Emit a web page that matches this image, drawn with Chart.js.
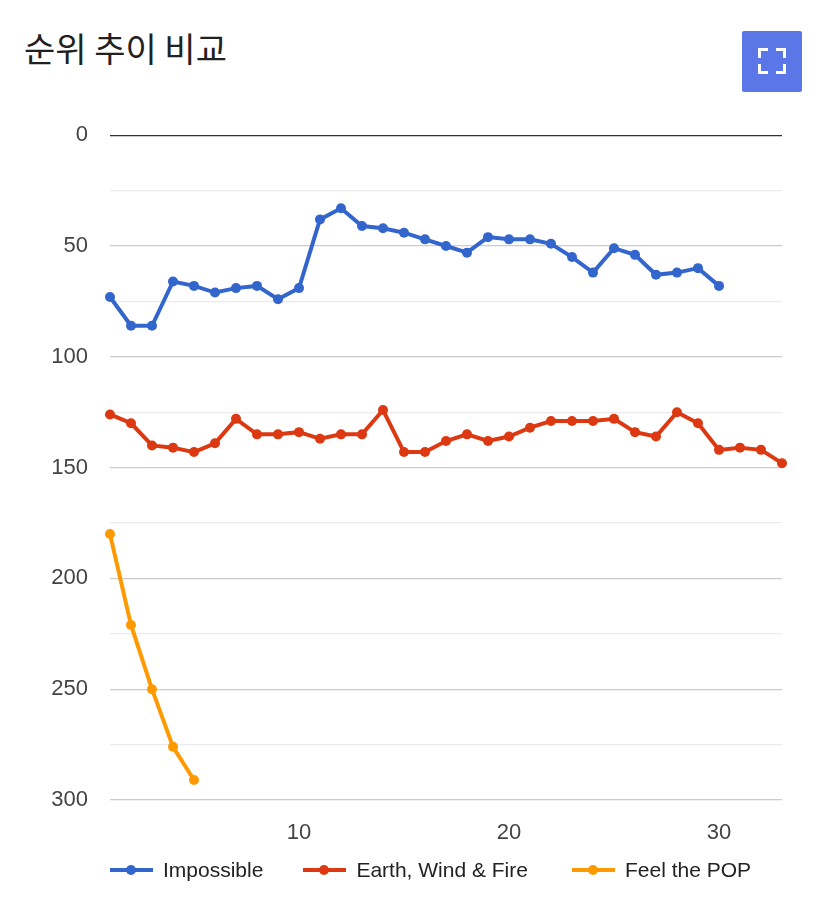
<!DOCTYPE html>
<html>
<head>
<meta charset="utf-8">
<script src="https://cdn.jsdelivr.net/npm/chart.js@4/dist/chart.umd.min.js"></script>
<style>
  html, body { margin: 0; padding: 0; background: #fff; }
  body { width: 828px; height: 922px; position: relative; overflow: hidden; font-family: "Liberation Sans", Arial, sans-serif; }
  #title { position: absolute; left: 24px; top: 26px; font-family: "Noto Sans CJK KR", "Noto Sans", sans-serif; font-size: 34px; color: #212121; line-height: 44px; }
  #fs { position: absolute; left: 742px; top: 31px; width: 60px; height: 61px; background: #5b77e7; border-radius: 2px; }
  #fs span { position: absolute; width: 7px; height: 7px; border-color: #fff; border-style: solid; border-width: 0; }
  #wrap { position: absolute; left: 0; top: 100px; width: 828px; height: 760px; }
  #legend { position: absolute; left: 110px; top: 856px; height: 28px; display: flex; align-items: center; font-family: "Liberation Sans", Arial, sans-serif; font-size: 21px; color: #222; }
  .item { display: flex; align-items: center; }
  .sw { position: relative; width: 43px; height: 4px; margin-right: 10px; }
  .sw i { position: absolute; left: 16px; top: -3px; width: 10px; height: 10px; border-radius: 50%; }
</style>
</head>
<body>
<div id="title">순위 추이 비교</div>
<div id="fs">
  <span style="left:16px;top:17px;border-left-width:3px;border-top-width:3px;"></span>
  <span style="right:16px;top:17px;border-right-width:3px;border-top-width:3px;"></span>
  <span style="left:16px;bottom:18px;border-left-width:3px;border-bottom-width:3px;"></span>
  <span style="right:16px;bottom:18px;border-right-width:3px;border-bottom-width:3px;"></span>
</div>
<div id="wrap"><canvas id="c"></canvas></div>
<div id="legend"></div>
<script>
const seriesNames = ["Impossible", "Earth, Wind & Fire", "Feel the POP"];
const impossible = [73, 86, 86, 66, 68, 71, 69, 68, 74, 69, 38, 33, 41, 42, 44, 47, 50, 53, 46, 47, 47, 49, 55, 62, 51, 54, 63, 62, 60, 68];
const earthWindFire = [126, 130, 140, 141, 143, 139, 128, 135, 135, 134, 137, 135, 135, 124, 143, 143, 138, 135, 138, 136, 132, 129, 129, 129, 128, 134, 136, 125, 130, 142, 141, 142, 148];
const feelThePop = [180, 221, 250, 276, 291];
const xTicks = [10, 20, 30];
const yLabelTicks = [0, 50, 100, 150, 200, 250, 300];
const colors = ["#3366cc", "#dc3912", "#ff9900"];

const toPts = arr => arr.map((v, i) => ({ x: i + 1, y: v }));
const seriesData = [impossible, earthWindFire, feelThePop];

const datasets = seriesData.map((arr, k) => ({
  label: seriesNames[k],
  data: toPts(arr),
  borderColor: colors[k],
  backgroundColor: colors[k],
  borderWidth: 4,
  pointRadius: 5,
  pointHoverRadius: 5,
  pointBorderWidth: 0,
  tension: 0,
  fill: false,
  clip: 10
}));

new Chart(document.getElementById('c'), {
  type: 'line',
  data: { datasets },
  options: {
    responsive: true,
    maintainAspectRatio: false,
    animation: false,
    layout: { padding: { top: 32, right: 46, left: 0, bottom: 0 } },
    plugins: { legend: { display: false }, tooltip: { enabled: false } },
    scales: {
      x: {
        type: 'linear',
        min: 1, max: 33,
        grid: { display: false, drawTicks: false },
        border: { display: false },
        afterBuildTicks: s => { s.ticks = xTicks.map(v => ({ value: v })); },
        afterFit: s => { s.height = 60; },
        ticks: {
          padding: 20,
          color: '#444',
          font: { family: '"Liberation Sans", Arial, sans-serif', size: 22 }
        }
      },
      y: {
        reverse: true,
        min: 0, max: 300,
        grid: {
          drawTicks: false,
          lineWidth: 1.3,
          color: c => c.tick.value === 0 ? '#333333' : (yLabelTicks.includes(c.tick.value) ? '#cccccc' : '#ebebeb')
        },
        border: { display: false },
        afterFit: s => { s.width = 110; },
        ticks: {
          stepSize: 25,
          padding: 22,
          color: '#444',
          font: { family: '"Liberation Sans", Arial, sans-serif', size: 22 },
          callback: v => yLabelTicks.includes(v) ? String(v) : ''
        }
      }
    }
  }
});

const leg = document.getElementById('legend');
const gaps = [40, 44, 0];
seriesNames.forEach((n, k) => {
  const it = document.createElement('div');
  it.className = 'item';
  it.style.marginRight = gaps[k] + 'px';
  it.innerHTML = '<div class="sw" style="background:' + colors[k] + '"><i style="background:' + colors[k] + '"></i></div><span>' + n.replace('&', '&amp;') + '</span>';
  leg.appendChild(it);
});
</script>
</body>
</html>
